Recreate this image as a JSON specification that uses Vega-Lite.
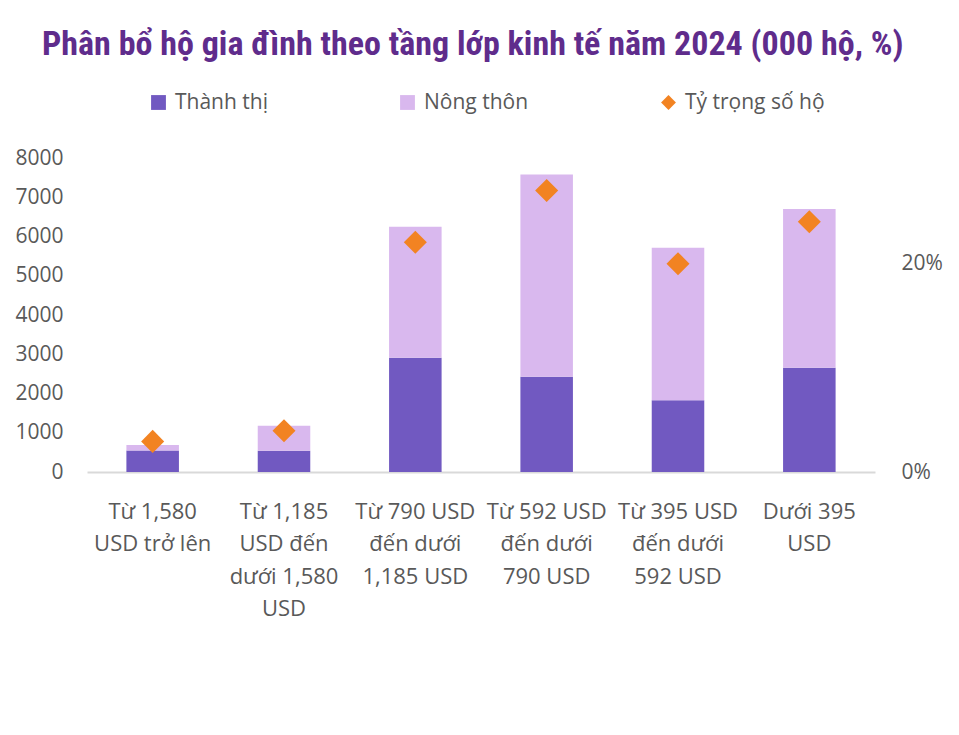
{
  "$schema": "https://vega.github.io/schema/vega-lite/v6.json",
  "width": 788,
  "height": 314,
  "autosize": {"type": "none"},
  "padding": {"left": 87, "top": 158, "right": 84, "bottom": 263},
  "background": "white",
  "title": {
    "text": "Phân bổ hộ gia đình theo tầng lớp kinh tế năm 2024 (000 hộ, %)",
    "anchor": "start",
    "frame": "group",
    "orient": "top",
    "dx": -45,
    "offset": 30,
    "font": "Liberation Sans Narrow, Roboto Condensed, Roboto",
    "fontSize": 34,
    "fontWeight": "bold",
    "color": "#5F2C8C"
  },
  "data": {
    "values": [
      {"cat": "Từ 1,580|USD trở lên", "series": "Thành thị", "value": 550},
      {"cat": "Từ 1,580|USD trở lên", "series": "Nông thôn", "value": 138},
      {"cat": "Từ 1,185|USD đến|dưới 1,580|USD", "series": "Thành thị", "value": 543},
      {"cat": "Từ 1,185|USD đến|dưới 1,580|USD", "series": "Nông thôn", "value": 637},
      {"cat": "Từ 790 USD|đến dưới|1,185 USD", "series": "Thành thị", "value": 2912},
      {"cat": "Từ 790 USD|đến dưới|1,185 USD", "series": "Nông thôn", "value": 3338},
      {"cat": "Từ 592 USD|đến dưới|790 USD", "series": "Thành thị", "value": 2428},
      {"cat": "Từ 592 USD|đến dưới|790 USD", "series": "Nông thôn", "value": 5154},
      {"cat": "Từ 395 USD|đến dưới|592 USD", "series": "Thành thị", "value": 1825},
      {"cat": "Từ 395 USD|đến dưới|592 USD", "series": "Nông thôn", "value": 3890},
      {"cat": "Dưới 395|USD", "series": "Thành thị", "value": 2657},
      {"cat": "Dưới 395|USD", "series": "Nông thôn", "value": 4043},
      {"cat": "Từ 1,580|USD trở lên", "series": "Tỷ trọng số hộ", "value": 0.0294},
      {"cat": "Từ 1,185|USD đến|dưới 1,580|USD", "series": "Tỷ trọng số hộ", "value": 0.0397},
      {"cat": "Từ 790 USD|đến dưới|1,185 USD", "series": "Tỷ trọng số hộ", "value": 0.2205},
      {"cat": "Từ 592 USD|đến dưới|790 USD", "series": "Tỷ trọng số hộ", "value": 0.2704},
      {"cat": "Từ 395 USD|đến dưới|592 USD", "series": "Tỷ trọng số hộ", "value": 0.2000},
      {"cat": "Dưới 395|USD", "series": "Tỷ trọng số hộ", "value": 0.2403}
    ]
  },
  "encoding": {
    "x": {
      "field": "cat",
      "type": "nominal",
      "sort": null,
      "scale": {"paddingInner": 0.6, "paddingOuter": 0.3},
      "axis": {
        "title": null,
        "labelAngle": 0,
        "labelExpr": "split(datum.label, '|')",
        "labelFontSize": 22,
        "labelLineHeight": 32.5,
        "labelColor": "#595959",
        "labelPadding": 29,
        "labelBaseline": "top",
        "labelLimit": 200,
        "ticks": false,
        "domainColor": "#D9D9D9",
        "domainWidth": 2
      }
    }
  },
  "layer": [
    {
      "transform": [
        {"filter": "datum.series !== 'Tỷ trọng số hộ'"},
        {"calculate": "datum.series === 'Thành thị' ? 0 : 1", "as": "ord"}
      ],
      "mark": {"type": "bar"},
      "encoding": {
        "y": {
          "field": "value",
          "type": "quantitative",
          "stack": "zero",
          "scale": {"domain": [0, 8000], "nice": false},
          "axis": {
            "title": null,
            "values": [0, 1000, 2000, 3000, 4000, 5000, 6000, 7000, 8000],
            "format": "d",
            "grid": false,
            "domain": false,
            "ticks": false,
            "labelFontSize": 21,
            "labelColor": "#595959",
            "labelPadding": 24
          }
        },
        "order": {"field": "ord", "type": "quantitative"},
        "color": {
          "field": "series",
          "type": "nominal",
          "scale": {
            "domain": ["Thành thị", "Nông thôn", "Tỷ trọng số hộ"],
            "range": ["#7159C1", "#D9B8EE", "#F28322"]
          }
        }
      }
    },
    {
      "transform": [{"filter": "datum.series === 'Tỷ trọng số hộ'"}],
      "mark": {"type": "point", "filled": true, "opacity": 1, "size": 530},
      "encoding": {
        "y": {
          "field": "value",
          "type": "quantitative",
          "scale": {"domain": [0, 0.3015], "nice": false},
          "axis": {
            "orient": "right",
            "title": null,
            "values": [0, 0.2],
            "format": ".0%",
            "grid": false,
            "domain": false,
            "ticks": false,
            "labelFontSize": 21,
            "labelColor": "#595959",
            "labelPadding": 26
          }
        },
        "color": {
          "field": "series",
          "type": "nominal",
          "scale": {
            "domain": ["Thành thị", "Nông thôn", "Tỷ trọng số hộ"],
            "range": ["#7159C1", "#D9B8EE", "#F28322"]
          }
        },
        "shape": {
          "field": "series",
          "type": "nominal",
          "scale": {
            "domain": ["Thành thị", "Nông thôn", "Tỷ trọng số hộ"],
            "range": ["square", "square", "diamond"]
          }
        }
      }
    }
  ],
  "resolve": {"scale": {"y": "independent"}},
  "config": {
    "font": "Open Sans",
    "view": {"stroke": null},
    "legend": {
      "title": null,
      "orient": "none",
      "legendX": 61,
      "legendY": -66,
      "direction": "horizontal",
      "columns": 3,
      "gridAlign": "none",
      "columnPadding": 129,
      "symbolSize": 220,
      "labelOffset": 6,
      "labelFontSize": 21,
      "labelColor": "#595959",
      "symbolStrokeWidth": 0
    }
  }
}
